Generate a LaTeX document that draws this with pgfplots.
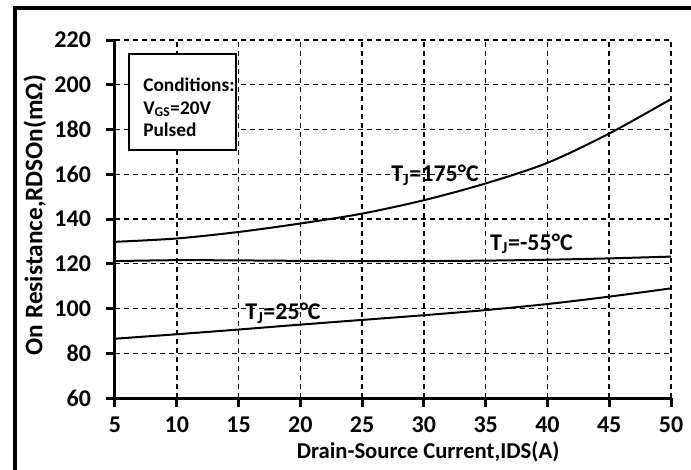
\documentclass[border=0pt]{standalone}
\usepackage{pgfplots}
\pgfplotsset{compat=1.18}
\usepackage{fontspec}
\setmainfont{Carlito}

\begin{document}
\begin{tikzpicture}
% 1 px of the reference = 0.75 pt, origin = plot SW corner
\begin{axis}[
    scale only axis,
    width=417pt,
    height=268.5pt,
    xmin=5, xmax=50,
    ymin=60, ymax=220,
    xtick={5,10,...,50},
    ytick={60,80,...,220},
    axis lines*=left,
    axis line style={line width=2.25pt, black},
    xtick align=outside, ytick align=outside,
    major tick length=6.5pt,
    tick style={line width=2.25pt, black, solid},
    xmajorgrids=true, ymajorgrids=true,
    major grid style={black, line width=1.1pt, dash pattern=on 3.75pt off 3pt},
    /pgf/number format/assume math mode=true,
    ticklabel style={font=\fontsize{18}{20}\selectfont\bfseries},
    xticklabel style={yshift=-4pt},
    yticklabel style={xshift=-8pt},
    xlabel={Drain-Source Current,IDS(A)},
    ylabel={On Resistance,RDSOn(mΩ)},
    xlabel style={font=\fontsize{17}{20}\selectfont\bfseries,
        at={(axis description cs:0.563,-0.151)}, anchor=center},
    ylabel style={font=\fontsize{19}{22}\selectfont\bfseries,
        at={(axis description cs:-0.144,0.511)}, anchor=center},
    clip=false,
]

% T_J = 175 C
\addplot[black, line width=1.5pt, smooth] coordinates {
    (5,129.8) (10,131.3) (15,134.2) (20,138.0) (25,142.4)
    (30,148.4) (35,155.9) (40,165.1) (45,178.2) (50,193.6)
};
% T_J = -55 C
\addplot[black, line width=1.5pt, smooth] coordinates {
    (5,121.2) (10,121.6) (15,121.5) (20,121.3) (25,121.2)
    (30,121.2) (35,121.4) (40,121.8) (45,122.4) (50,123.2)
};
% T_J = 25 C
\addplot[black, line width=1.5pt, smooth] coordinates {
    (5,86.5) (10,88.5) (15,90.6) (20,92.8) (25,94.9)
    (30,97.0) (35,99.3) (40,102.0) (45,105.3) (50,109.0)
};

\node[font=\fontsize{18}{22}\selectfont\bfseries] at (axis cs:30.9,159.6) {T\textsubscript{J}=175°C};
\node[font=\fontsize{18}{22}\selectfont\bfseries] at (axis cs:38.7,129.0) {T\textsubscript{J}=-55°C};
\node[font=\fontsize{18}{22}\selectfont\bfseries] at (axis cs:18.6,97.8) {T\textsubscript{J}=25°C};

% conditions box
\draw[black, line width=1.2pt, fill=white]
    (axis cs:6.13,213.7) rectangle (axis cs:14.79,170.8);
\node[anchor=base west, inner sep=0pt, font=\fontsize{14.5}{16}\selectfont\bfseries]
    at (axis cs:7.27,197.2) {Conditions:};
\node[anchor=base west, inner sep=0pt, font=\fontsize{14.5}{16}\selectfont\bfseries]
    at (axis cs:7.27,186.9) {V\textsubscript{GS}=20V};
\node[anchor=base west, inner sep=0pt, font=\fontsize{14.5}{16}\selectfont\bfseries]
    at (axis cs:7.27,177.0) {Pulsed};
\end{axis}

% outer frame (left and top edges only are visible) and page size
\draw[line width=3pt, overlay] (-75pt,-60pt) -- (-75pt,292.5pt) -- (440pt,292.5pt);
\pgfresetboundingbox
\useasboundingbox (-86.25pt,-53.25pt) rectangle (432pt,298.5pt);
\end{tikzpicture}
\end{document}
